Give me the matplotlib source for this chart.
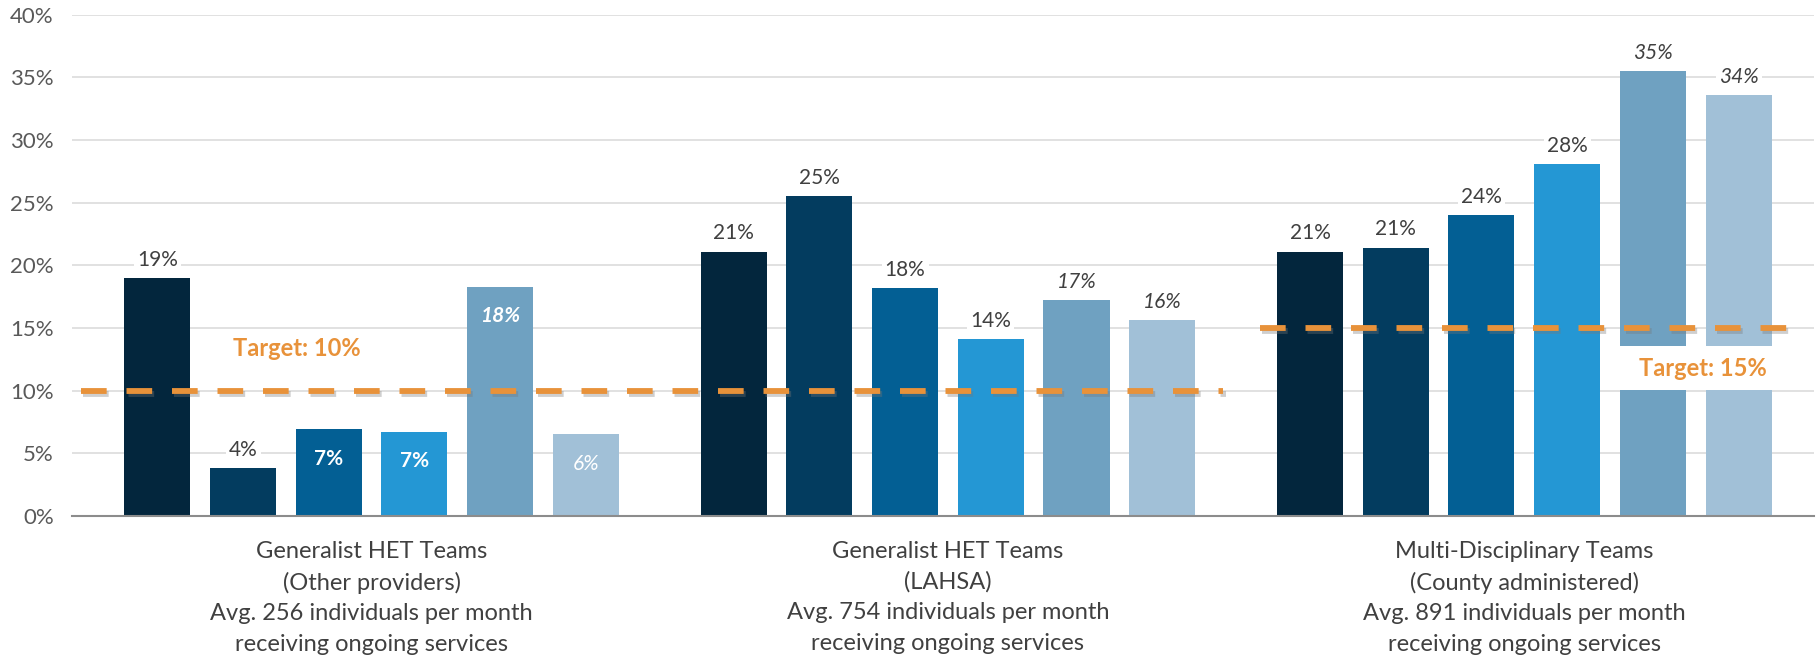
import matplotlib
matplotlib.use("Agg")
import matplotlib.pyplot as plt
import matplotlib.patheffects as pe
from matplotlib.patches import Rectangle
import numpy as np

plt.rcParams['font.family'] = ['Lato', 'DejaVu Sans']

group_labels = [
    "Generalist HET Teams\n(Other providers)\nAvg. 256 individuals per month\nreceiving ongoing services",
    "Generalist HET Teams\n(LAHSA)\nAvg. 754 individuals per month\nreceiving ongoing services",
    "Multi-Disciplinary Teams\n(County administered)\nAvg. 891 individuals per month\nreceiving ongoing services",
]
other_providers = [19.0, 3.8, 6.9, 6.7, 18.3, 6.5]
lahsa = [21.1, 25.5, 18.2, 14.1, 17.2, 15.6]
county = [21.1, 21.4, 24.0, 28.1, 35.5, 33.6]
other_labels = ["19%", "4%", "7%", "7%", "18%", "6%"]
lahsa_labels = ["21%", "25%", "18%", "14%", "17%", "16%"]
county_labels = ["21%", "21%", "24%", "28%", "35%", "34%"]
target_values = [10, 15]
target_texts = ["Target: 10%", "Target: 15%"]
y_ticks = [0, 5, 10, 15, 20, 25, 30, 35, 40]

colors = ["#03263d", "#033c5f", "#035f94", "#2497d4", "#6fa1c1", "#a1c0d7"]
italic_series = [4, 5]
# bars whose labels are inside (group index, series index)
inside = {(0, 2), (0, 3), (0, 4), (0, 5)}

fig = plt.figure(figsize=(18.16, 6.70), dpi=100)
ax = fig.add_axes([0.0396, 0.230, 0.9594, 0.748])

groups_vals = [other_providers, lahsa, county]
groups_labs = [other_labels, lahsa_labels, county_labels]
pitch = 0.1487
width = 0.1146
n = 6
offsets = (np.arange(n) - (n - 1) / 2) * pitch

for g, (vals, labs) in enumerate(zip(groups_vals, groups_labs)):
    for i, (v, lab) in enumerate(zip(vals, labs)):
        x = g + offsets[i]
        ax.bar(x, v, width=width, color=colors[i], zorder=2)
        style = 'italic' if i in italic_series else 'normal'
        if (g, i) in inside:
            ax.annotate(lab, (x, v), xytext=(0, -21), textcoords='offset points',
                        ha='center', va='center', fontsize=15, color='white',
                        fontweight='bold' if i < 5 else 'normal', fontstyle=style, zorder=5)
        else:
            ax.annotate(lab, (x, v), xytext=(0, 6), textcoords='offset points',
                        ha='center', va='bottom', fontsize=15, color='#404040',
                        fontstyle=style, zorder=5,
                        bbox=dict(boxstyle='square,pad=0.15', fc='white', ec='none'))

shadow = [pe.SimpleLineShadow(offset=(1.5, -2.5), shadow_color='#777777', alpha=0.35), pe.Normal()]
ax.plot([-0.505, 1.478], [target_values[0]] * 2, color='#e8923a', lw=4.2,
        dashes=(4.4, 3.4), solid_capstyle='butt', dash_capstyle='butt', zorder=4,
        path_effects=shadow)
ax.plot([1.541, 2.457], [target_values[1]] * 2, color='#e8923a', lw=4.2,
        dashes=(4.4, 3.4), solid_capstyle='butt', dash_capstyle='butt', zorder=4,
        path_effects=shadow)

ax.text(-0.13, 13.4, target_texts[0], ha='center', va='center', fontsize=17,
        fontweight='bold', color='#e8923a', zorder=6)
label2_y = 11.8
box_left = 2 + offsets[4] - width / 2 - 0.01
box_right = 2 + offsets[5] + width / 2 + 0.01
ax.add_patch(Rectangle((box_left, label2_y - 1.75), box_right - box_left, 3.5,
                       facecolor='white', edgecolor='none', zorder=3))
ax.text(2.31, label2_y, target_texts[1], ha='center', va='center', fontsize=17,
        fontweight='bold', color='#e8923a', zorder=6)

ax.set_xlim(-0.52, 2.503)
ax.set_ylim(0, 40)
ax.set_yticks(y_ticks)
ax.set_yticklabels([f"{t}%" for t in y_ticks])
ax.set_xticks([0, 1, 2])
ax.set_xticklabels(group_labels, fontsize=17, color='#404040', linespacing=1.55)
ax.tick_params(axis='x', length=0, pad=18)
ax.tick_params(axis='y', length=0, pad=13, labelsize=16, labelcolor='#595959')
ax.grid(axis='y', color='#dcdcdc', lw=1.2, zorder=0)
ax.set_axisbelow(True)
for s in ['top', 'right', 'left']:
    ax.spines[s].set_visible(False)
ax.spines['bottom'].set_color('#8c8c8c')
ax.spines['bottom'].set_linewidth(1.5)

fig.savefig("out.png", dpi=100)
